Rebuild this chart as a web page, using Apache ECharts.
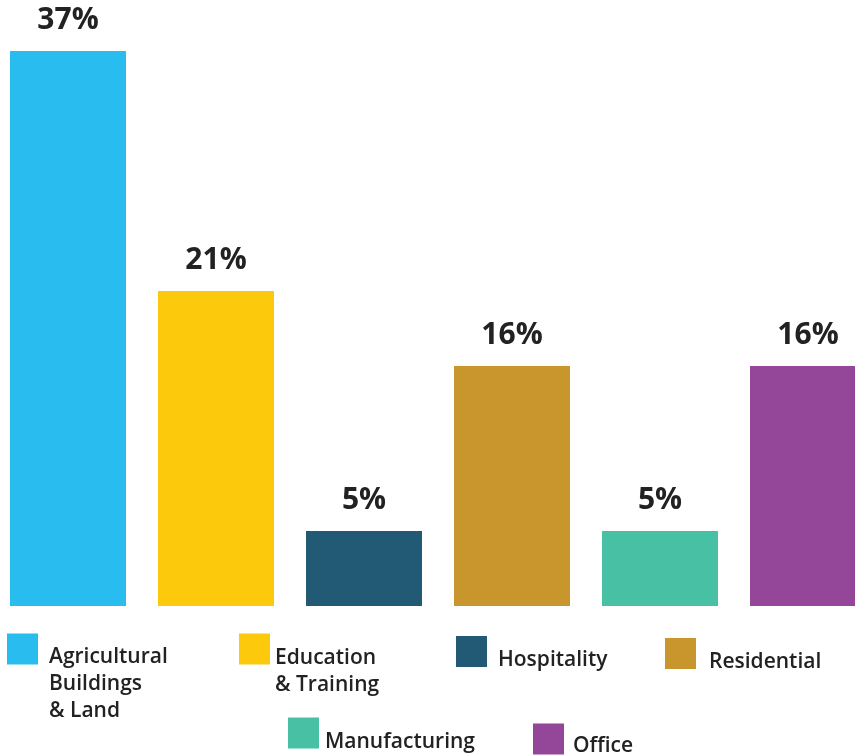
<!DOCTYPE html>
<html>
<head>
<meta charset="utf-8">
<script src="https://cdn.jsdelivr.net/npm/echarts@6/dist/echarts.min.js"></script>
<style>
  html, body { margin: 0; padding: 0; background: #ffffff; }
  #chart { width: 855px; height: 755px; }
</style>
</head>
<body>
<div id="chart"></div>
<script>
// Share of projects by sector (%)
const categories = ['Agricultural Buildings & Land', 'Education & Training', 'Hospitality', 'Residential', 'Manufacturing', 'Office'];
const values = [37, 21, 5, 16, 5, 16];
const legendLines = [['Agricultural', 'Buildings', '& Land'], ['Education', '& Training'], ['Hospitality'], ['Residential'], ['Manufacturing'], ['Office']];

const palette = ['#29bdef', '#fcc90c', '#225a76', '#c8962c', '#47c0a4', '#944799'];

// legend placement per item: icon left, top of legend box, extra gap to text, vertical text shift
const legendPlacement = [
  { left: 7,   top: 573,   gap: 6, shift: 35.5 },
  { left: 239, top: 599.8, gap: 0, shift: 22.2 },
  { left: 456, top: 629,   gap: 6, shift: 9 },
  { left: 665, top: 631.5, gap: 8, shift: 8.5 },
  { left: 288, top: 710.5, gap: 1, shift: 9 },
  { left: 533, top: 718,   gap: 4, shift: 7.5 }
];

const FONT = '"Open Sans", "DejaVu Sans", sans-serif';

const series = categories.map((name, i) => ({
  name: name,
  type: 'bar',
  barWidth: 116,
  barGap: '-100%',
  itemStyle: { color: palette[i] },
  label: {
    show: true,
    position: 'top',
    distance: 16,
    formatter: '{c}%',
    color: '#222222',
    fontFamily: FONT,
    fontWeight: 700,
    fontSize: 30
  },
  data: values.map((v, j) => (j === i ? v : '-'))
}));

const legendTextBase = {
  color: '#222222',
  fontFamily: FONT,
  fontWeight: 600,
  fontSize: 21,
  lineHeight: 27
};

const legends = categories.map((name, i) => {
  const p = legendPlacement[i];
  return {
    data: [name],
    left: p.left,
    top: p.top,
    padding: 0,
    icon: 'rect',
    itemWidth: 31,
    itemHeight: 31,
    selectedMode: false,
    // a blank spacer line on top pushes the label below the swatch centre
    formatter: () => ['{sp| }'].concat(legendLines[i].map(line => '{t|' + line + '}')).join('\n'),
    textStyle: Object.assign({}, legendTextBase, {
      rich: {
        sp: { fontSize: 1, lineHeight: p.shift * 2 },
        t: Object.assign({}, legendTextBase, { padding: [0, 0, 0, p.gap] })
      }
    })
  };
});

const chart = echarts.init(document.getElementById('chart'), null, { renderer: 'canvas' });
chart.setOption({
  animation: false,
  backgroundColor: '#ffffff',
  grid: { left: -6, top: 6, width: 888, height: 600, outerBoundsMode: 'none', containLabel: false },
  xAxis: {
    type: 'category',
    data: categories,
    axisLine: { show: false },
    axisTick: { show: false },
    axisLabel: { show: false }
  },
  yAxis: {
    type: 'value',
    min: 0,
    max: 40,
    show: false,
    splitLine: { show: false }
  },
  legend: legends,
  series: series
});
</script>
</body>
</html>
